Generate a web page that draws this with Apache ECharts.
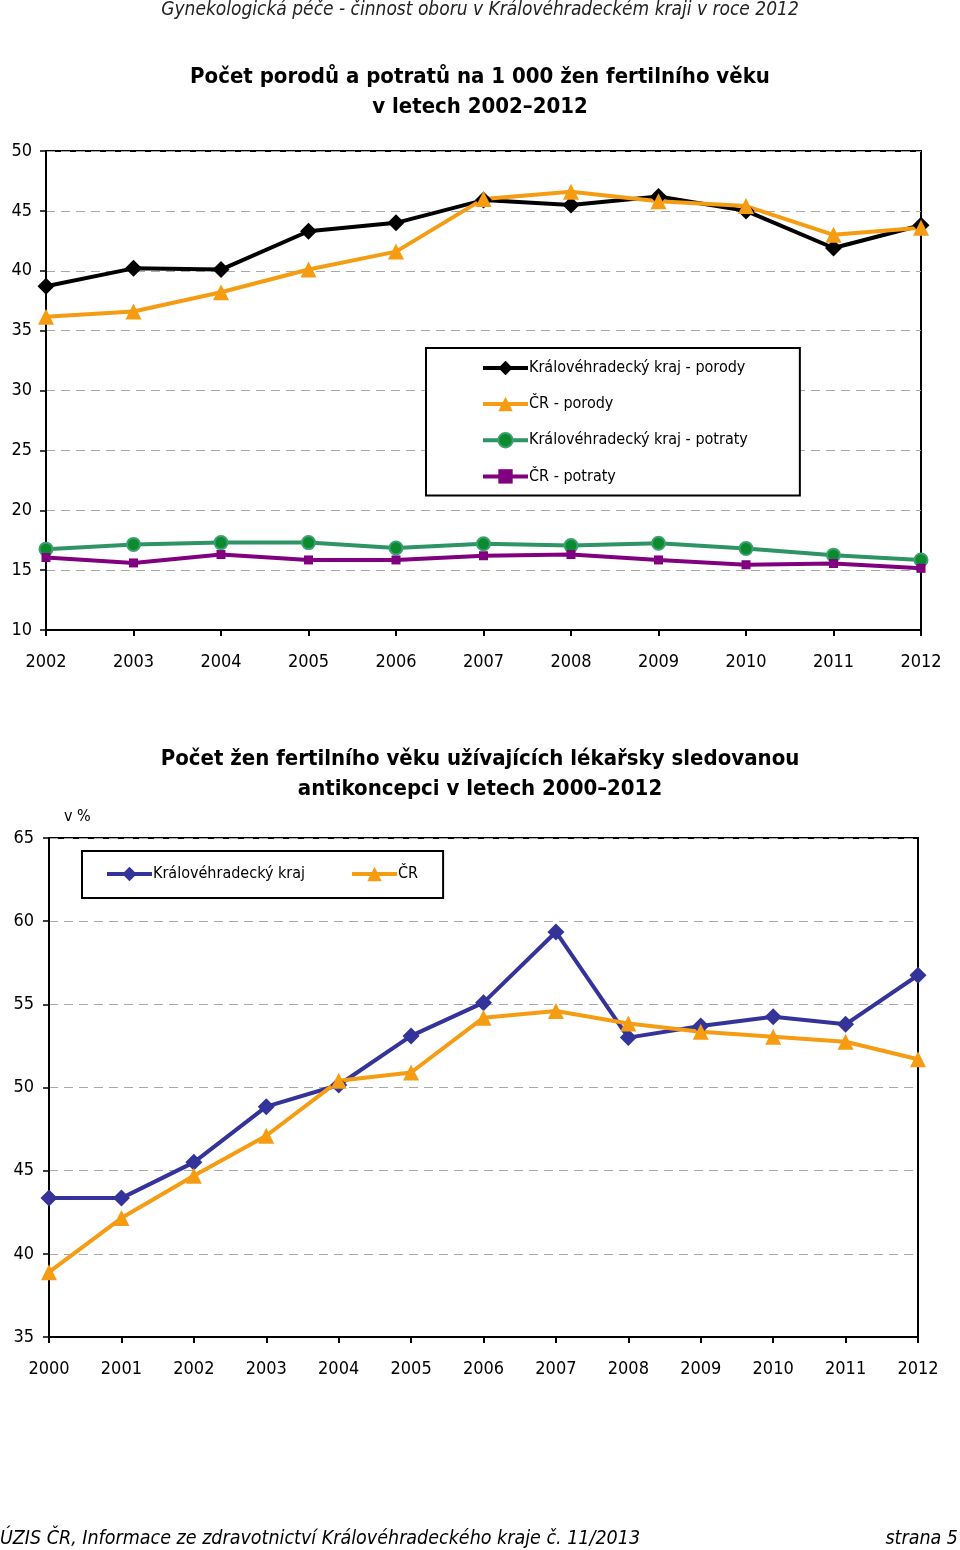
<!DOCTYPE html>
<html><head><meta charset="utf-8">
<script src="https://cdn.jsdelivr.net/npm/echarts@6/dist/echarts.min.js"></script>
<style>html,body{margin:0;padding:0;background:#fff}#c{width:960px;height:1550px}</style>
</head><body><div id="c"></div>
<script>
// ---- data: chart 1 (per 1 000 women of fertile age) ----
const years1 = ['2002','2003','2004','2005','2006','2007','2008','2009','2010','2011','2012'];
const khkPorody = [38.7, 40.2, 40.1, 43.3, 44.0, 45.9, 45.5, 46.2, 45.0, 41.9, 43.8];
const crPorody = [36.15, 36.6, 38.2, 40.1, 41.6, 46.0, 46.6, 45.8, 45.4, 43.0, 43.6];
const khkPotraty = [16.75, 17.15, 17.3, 17.3, 16.85, 17.2, 17.05, 17.25, 16.8, 16.25, 15.85];
const crPotraty = [16.05, 15.6, 16.3, 15.85, 15.85, 16.2, 16.3, 15.85, 15.45, 15.55, 15.15];
const names1 = ['Královéhradecký kraj - porody', 'ČR - porody', 'Královéhradecký kraj - potraty', 'ČR - potraty'];
// ---- data: chart 2 (contraception, %) ----
const years2 = ['2000','2001','2002','2003','2004','2005','2006','2007','2008','2009','2010','2011','2012'];
const khkAnti = [43.35, 43.35, 45.5, 48.85, 50.15, 53.1, 55.1, 59.35, 53.0, 53.7, 54.25, 53.8, 56.75];
const crAnti = [38.9, 42.15, 44.7, 47.1, 50.4, 50.9, 54.2, 54.6, 53.85, 53.35, 53.05, 52.75, 51.7];
const names2 = ['Královéhradecký kraj', 'ČR'];

const FONT = "'Liberation Sans Narrow','Arial Narrow','DejaVu Sans Condensed',sans-serif";
const ORANGE = '#F59C12';
const chart = echarts.init(document.getElementById('c'), null, {renderer: 'canvas'});

const splitLine = {show: true, lineStyle: {color: '#a8a8a8', type: [9, 6], width: 1}};
const axisLine = {show: true, lineStyle: {color: '#000', width: 2}};

function lineSeries(name, data, xi, color, symbol, size, extra) {
  return Object.assign({
    name, type: 'line', data, xAxisIndex: xi, yAxisIndex: xi,
    symbol, symbolSize: size, showSymbol: true,
    lineStyle: {color, width: 4},
    itemStyle: {color, borderWidth: 0},
    emphasis: {disabled: true},
    animation: false
  }, extra || {});
}
function txt(text, top, font, fill) {
  return {type: 'text', left: 'center', top, style: {text, font, fill: fill || '#000'}};
}

const option = {
  animation: false,
  textStyle: {fontFamily: FONT},
  graphic: [
    txt('Gynekologická péče - činnost oboru v Královéhradeckém kraji v roce 2012', 1, 'italic 19px ' + FONT, '#222'),
    txt('Počet porodů a potratů na 1 000 žen fertilního věku', 66, 'bold 22px ' + FONT),
    txt('v letech 2002–2012', 96, 'bold 22px ' + FONT),
    txt('Počet žen fertilního věku užívajících lékařsky sledovanou', 748, 'bold 22px ' + FONT),
    txt('antikoncepci v letech 2000–2012', 778, 'bold 22px ' + FONT),
    {type: 'text', left: 64, top: 809, style: {text: 'v %', font: '16px ' + FONT, fill: '#000'}},
    {type: 'text', left: 0, top: 1529, style: {text: 'ÚZIS ČR, Informace ze zdravotnictví Královéhradeckého kraje č. 11/2013', font: 'italic 19.5px ' + FONT, fill: '#000'}},
    {type: 'text', right: 2, top: 1529, style: {text: 'strana 5', font: 'italic 19.5px ' + FONT, fill: '#000'}}
  ],
  legend: [
    {
      data: names1, orient: 'vertical', left: 426, top: 348,
      padding: [12, 52, 11, 55], itemGap: 20, itemWidth: 45, itemHeight: 18,
      borderColor: '#000', borderWidth: 2, backgroundColor: '#fff',
      lineStyle: {width: 4},
      textStyle: {fontFamily: FONT, fontSize: 16, color: '#000', padding: [0, 0, 0, -4]},
      selectedMode: false
    },
    {
      data: names2, orient: 'horizontal', left: 82, top: 851,
      padding: [15, 25, 16, 23], itemGap: 45, itemWidth: 45, itemHeight: 18,
      borderColor: '#000', borderWidth: 2, backgroundColor: '#fff',
      lineStyle: {width: 4},
      textStyle: {fontFamily: FONT, fontSize: 16, color: '#000', padding: [0, 0, 0, -4]},
      selectedMode: false
    }
  ],
  grid: [
    {left: 46, top: 151, width: 875, height: 479, show: true, borderColor: '#000', borderWidth: 2, backgroundColor: 'transparent'},
    {left: 49, top: 838, width: 869, height: 499, show: true, borderColor: '#000', borderWidth: 2, backgroundColor: 'transparent'}
  ],
  xAxis: [
    {type: 'category', gridIndex: 0, data: years1, boundaryGap: false, axisLine,
     axisTick: {show: true, length: 6, lineStyle: {color: '#000', width: 2}},
     axisLabel: {fontFamily: FONT, fontSize: 18, color: '#000', margin: 23}, splitLine: {show: false}},
    {type: 'category', gridIndex: 1, data: years2, boundaryGap: false, axisLine,
     axisTick: {show: true, length: 6, lineStyle: {color: '#000', width: 2}},
     axisLabel: {fontFamily: FONT, fontSize: 18, color: '#000', margin: 23}, splitLine: {show: false}}
  ],
  yAxis: [
    {type: 'value', gridIndex: 0, min: 10, max: 50, interval: 5, axisLine,
     axisTick: {show: true, length: 6, lineStyle: {color: '#000', width: 1.5}},
     axisLabel: {fontFamily: FONT, fontSize: 18, color: '#000', margin: 14}, splitLine},
    {type: 'value', gridIndex: 1, min: 35, max: 65, interval: 5, axisLine,
     axisTick: {show: true, length: 6, lineStyle: {color: '#000', width: 1.5}},
     axisLabel: {fontFamily: FONT, fontSize: 18, color: '#000', margin: 15}, splitLine}
  ],
  series: [
    lineSeries(names1[0], khkPorody, 0, '#000', 'diamond', 17),
    lineSeries(names1[1], crPorody, 0, ORANGE, 'triangle', 16),
    lineSeries(names1[2], khkPotraty, 0, '#2E9466', 'circle', 13,
      {itemStyle: {color: '#0B8A2E', borderColor: '#3AA070', borderWidth: 2}}),
    lineSeries(names1[3], crPotraty, 0, '#800080', 'rect', 9),
    lineSeries(names2[0], khkAnti, 1, '#333399', 'diamond', 17),
    lineSeries(names2[1], crAnti, 1, ORANGE, 'triangle', 16)
  ]
};
chart.setOption(option);
</script>
</body></html>
